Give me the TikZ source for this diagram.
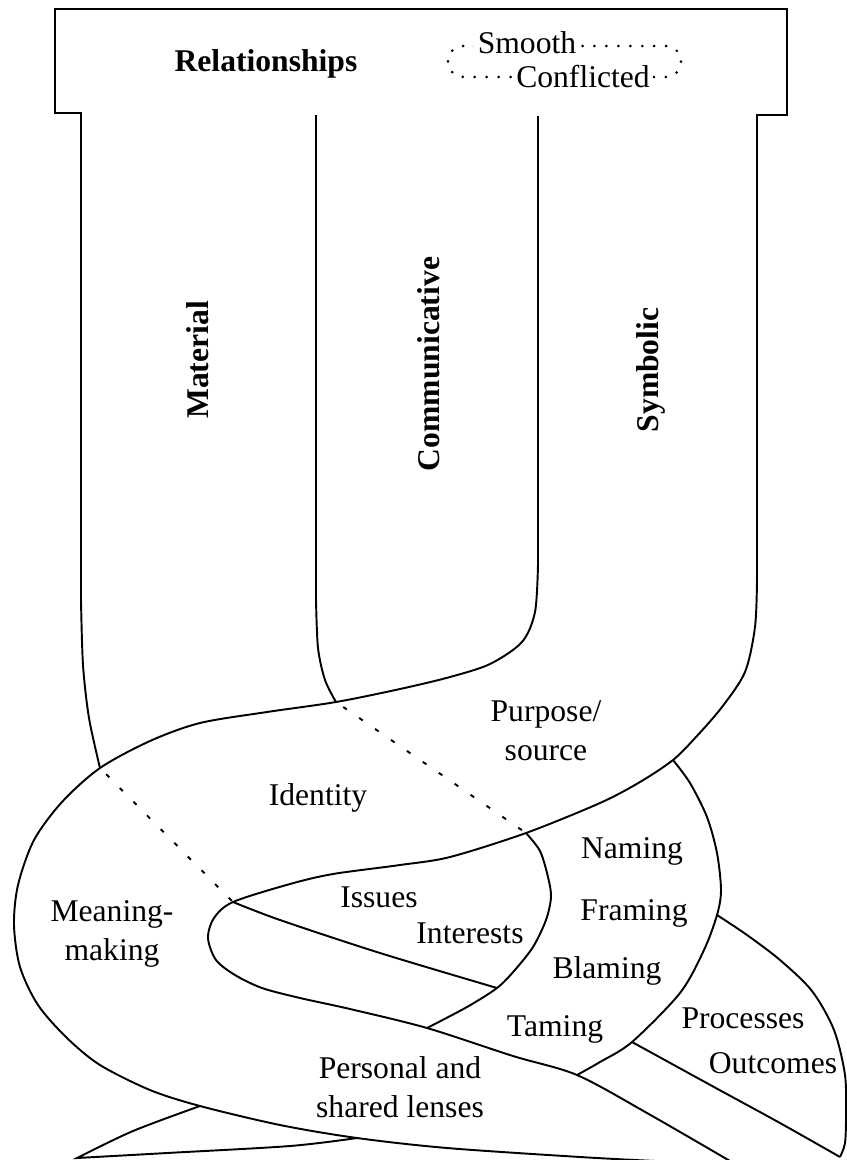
\documentclass[tikz,border=0pt]{standalone}
\usepackage{fontspec}
\setmainfont{Liberation Serif}
\usepackage{tikz}

\begin{document}
\begin{tikzpicture}[x=0.02cm,y=-0.02cm,line width=1.1pt,
    lbl/.style={font=\fontsize{18}{22}\selectfont,inner sep=0pt},
    hdr/.style={lbl,font=\fontsize{18}{22}\selectfont\bfseries},
    strandlbl/.style={hdr,rotate=90},
    tucked/.style={line width=1.1pt,dash pattern=on 2.5pt off 8.5pt,dash phase=6pt},
    dotring/.style={line width=1.7pt,line cap=round,dash pattern=on 0pt off 6.8pt}]
  \useasboundingbox (0,0) rectangle (847,1160);

  \coordinate (jA) at (100,768);
  \coordinate (jB) at (336,702);
  \coordinate (jC) at (233,902);
  \coordinate (jD) at (526,833);
  \coordinate (jE) at (673,760);
  \coordinate (jF) at (497,988);
  \coordinate (jG) at (427,1028);
  \coordinate (jH) at (577,1075);
  \coordinate (jI) at (717,915);
  \coordinate (jJ) at (632,1042);
  \coordinate (jK) at (840,1157);
  \coordinate (jL) at (200,1106);
  \coordinate (jM) at (357,1138);
  \coordinate (jN) at (77,1158);

  \draw plot[smooth] coordinates {(jA) (89,718) (83,665) (81,600)}
    -- (81,113) -- (55,113) -- (55,9) -- (787,9) -- (787,115) -- (757,115)
    -- plot[smooth] coordinates {(757,580) (755,627) (745,672) (722,707) (696,737) (jE)
       (640,782) (600,803) (jD) (450,857) (400,865) (333,874) (290,884) (jC)
       (214,918) (208,938) (216,960) (235,975) (262,988) (300,998) (350,1009) (jG)
       (513,1056) (jH) (647,1113) (730,1161)};
  \draw (316,115) -- plot[smooth] coordinates {(316,600) (318,648) (325,680) (jB)};
  \draw (538,116) -- plot[smooth] coordinates {(538,565) (535,612) (522,642) (490,664)
       (450,677) (400,689) (jB) (267,712) (200,723) (150,741) (jA) (62,802) (34,840)
       (18,885) (14,925) (20,967) (38,1005) (67,1038) (100,1065) (150,1090) (jL)
       (280,1125) (jM) (447,1148) (580,1157) (655,1161)};

  \draw[tucked] (jA) -- (jC);
  \draw[tucked] (jB) -- (jD);

  \draw plot[smooth] coordinates {(jC) (280,920) (380,953) (jF)};
  \draw plot[smooth] coordinates {(jD) (540,851) (548,877) (551,897) (546,920)
       (533,947) (514,971) (jF) (467,1007) (jG)};
  \draw plot[smooth] coordinates {(jE) (690,783) (707,817) (717,853) (721,890) (jI)
       (704,950) (680,993) (jJ) (600,1062) (jH)};
  \draw plot[smooth] coordinates {(jI) (747,935) (780,960) (812,991) (834,1030)
       (845,1075) (846,1115) (845,1143) (jK)};
  \draw plot[smooth] coordinates {(jJ) (714,1087) (780,1123) (jK)};
  \draw plot[smooth] coordinates {(jL) (133,1131) (jN)}
    -- plot[smooth] coordinates {(jN) (167,1153) (290,1146) (jM)};

  \draw[dotring,rounded corners=8.7pt] (448,46) rectangle (681,77);
  \node[hdr,anchor=base] (rel) at (266,71) {Relationships};
  \node[lbl,anchor=base,fill=white,inner xsep=2pt] (smooth) at (527,53) {Smooth};
  \node[lbl,anchor=base,fill=white,inner xsep=2pt] (confl) at (583,87) {Conflicted};

  \node[strandlbl] (material) at (198,360) {Material};
  \node[strandlbl] (commun) at (429,364) {Communicative};
  \node[strandlbl] (symbolic) at (651,370) {Symbolic};

  \node[lbl,anchor=north,align=center] (purpose) at (546,700) {Purpose/\\source};
  \node[lbl,anchor=base] (identity) at (318,805) {Identity};
  \node[lbl,anchor=north,align=center] (meaning) at (112,900) {Meaning-\\making};
  \node[lbl,anchor=base] (issues) at (379,907) {Issues};
  \node[lbl,anchor=base] (interests) at (470,943) {Interests};
  \node[lbl,anchor=base] (naming) at (632,858) {Naming};
  \node[lbl,anchor=base] (framing) at (634,920) {Framing};
  \node[lbl,anchor=base] (blaming) at (607,978) {Blaming};
  \node[lbl,anchor=base] (taming) at (555,1036) {Taming};
  \node[lbl,anchor=base] (processes) at (743,1028) {Processes};
  \node[lbl,anchor=base] (outcomes) at (773,1073) {Outcomes};
  \node[lbl,anchor=north,align=center] (lenses) at (400,1056) {Personal and\\shared lenses};
\end{tikzpicture}
\end{document}
